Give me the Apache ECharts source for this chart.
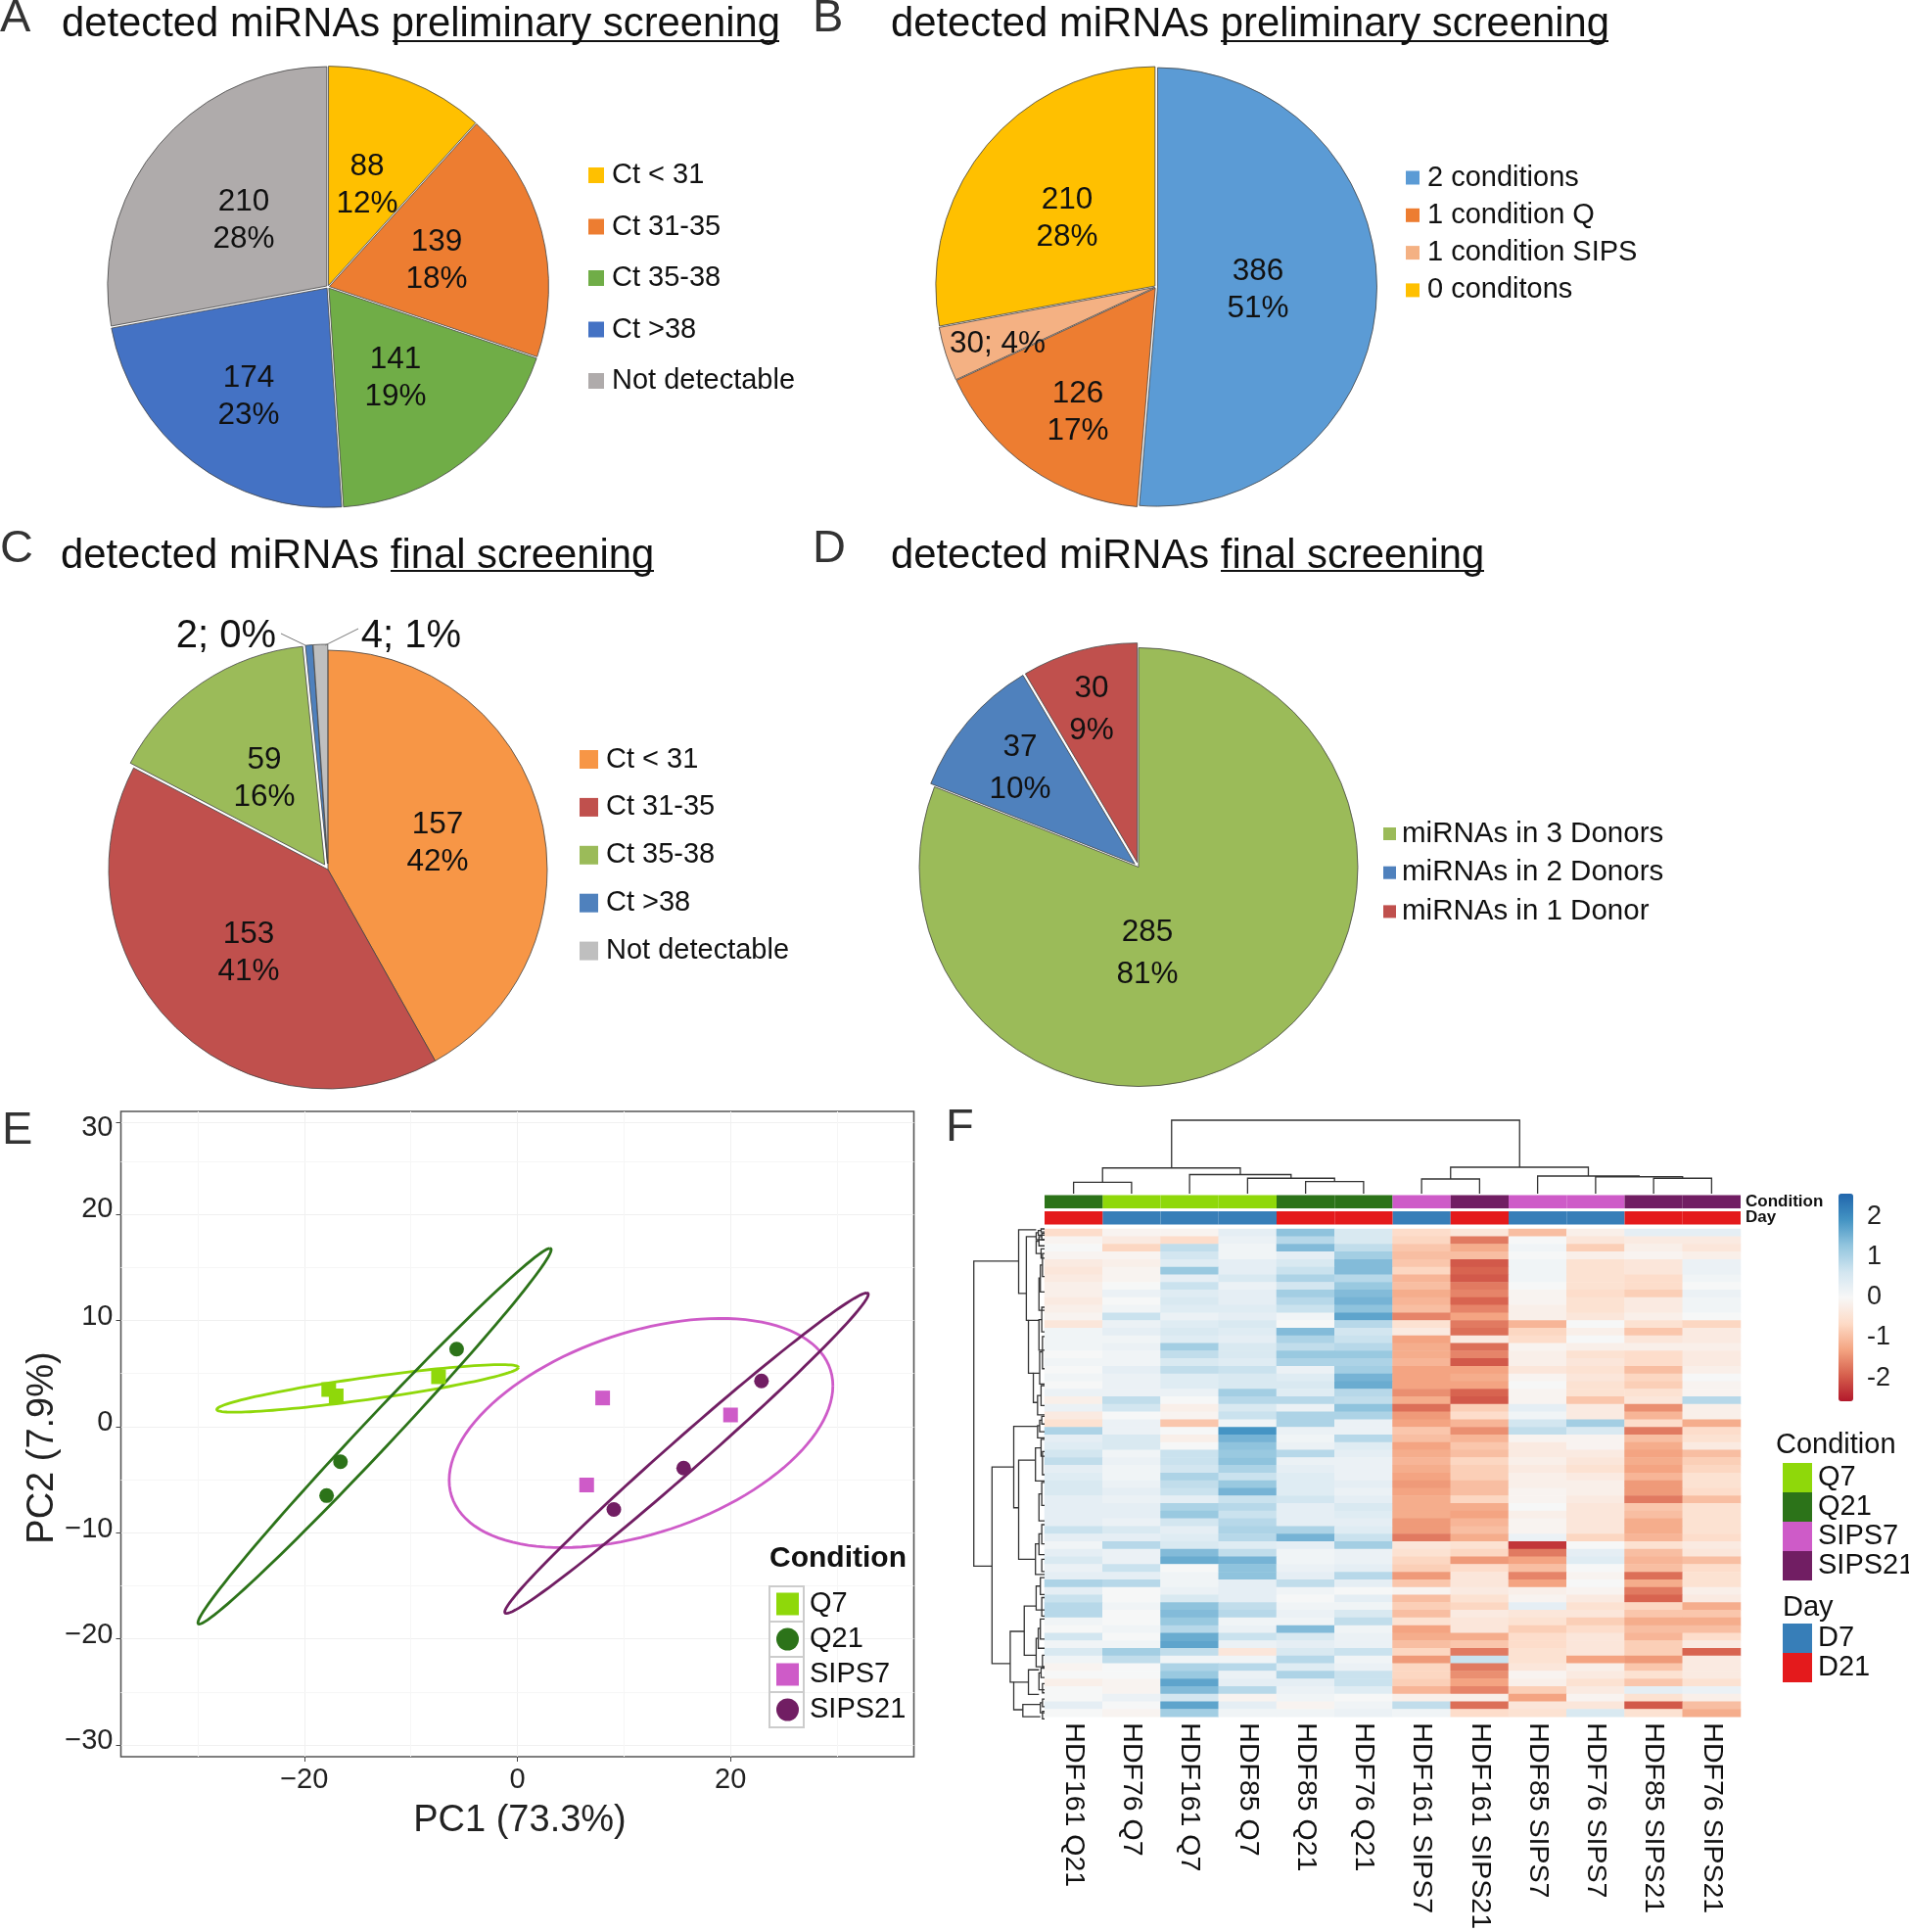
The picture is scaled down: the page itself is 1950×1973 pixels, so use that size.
<!DOCTYPE html>
<html>
<head>
<meta charset="utf-8">
<title>miRNA screening</title>
<script src="https://cdn.jsdelivr.net/npm/echarts@6/dist/echarts.min.js"></script>
<style>
    html, body { margin: 0; padding: 0; background: #fff; }
    #chart { width: 1950px; height: 1973px; }
</style>
</head>
<body>
<div id="chart"></div>
<script>
// ---- pies
var ctNames = ['Ct < 31', 'Ct 31-35', 'Ct 35-38', 'Ct >38', 'Not detectable'];
var pieAValues = [88, 139, 141, 174, 210];
var pieAPercents = [12, 18, 19, 23, 28];
var pieBNames = ['2 conditions', '1 condition Q', '1 condition SIPS', '0 conditons'];
var pieBValues = [386, 126, 30, 210];
var pieBPercents = [51, 17, 4, 28];
var pieCValues = [157, 153, 59, 2, 4];
var pieCPercents = [42, 41, 16, 0, 1];
var pieDNames = ['miRNAs in 3 Donors', 'miRNAs in 2 Donors', 'miRNAs in 1 Donor'];
var pieDValues = [285, 37, 30];
var pieDPercents = [81, 10, 9];

// ---- PCA
var q7Points = [[-17.7, 3.5], [-17.0, 2.9], [-7.4, 4.7]];
var q21Points = [[-5.7, 7.3], [-16.6, -3.3], [-17.9, -6.5]];
var sips7Points = [[8.0, 2.7], [20.0, 1.1], [6.5, -5.5]];
var sips21Points = [[22.9, 4.3], [15.6, -3.9], [9.05, -7.8]];
// centre x, centre y, then the two conjugate radii
var q7Ellipse = [-14.05, 3.6, 14.15, 1.98, 0, 1.05];
var q21Ellipse = [-13.4, -0.9, 16.45, 17.7, 2.0, 0];
var sips7Ellipse = [11.6, -0.6, 18, 4.45, 0, 9.84];
var sips21Ellipse = [15.87, -2.5, 16.9, 15.1, 2.3, 0];
var pcaXTicks = [-20, 0, 20];
var pcaYTicks = [-30, -20, -10, 0, 10, 20, 28.7];
// the printed y labels sit a little above their ticks
var pcaYLabels = [-29.65, -19.65, -9.65, 0.35, 10.35, 20.45, 28.1];
var pcaXMinor = [-30, -10, 10, 30];
var pcaYMinor = [-25, -15, -5, 5, 15, 25];

// ---- heatmap
var samples = ['HDF161 Q21', 'HDF76 Q7', 'HDF161 Q7', 'HDF85 Q7', 'HDF85 Q21', 'HDF76 Q21',
    'HDF161 SIPS7', 'HDF161 SIPS21', 'HDF85 SIPS7', 'HDF76 SIPS7', 'HDF85 SIPS21', 'HDF76 SIPS21'];
var sampleCondition = ['Q21', 'Q7', 'Q7', 'Q7', 'Q21', 'Q21', 'SIPS7', 'SIPS21', 'SIPS7', 'SIPS7', 'SIPS21', 'SIPS21'];
var sampleDay = ['D21', 'D7', 'D7', 'D7', 'D21', 'D21', 'D7', 'D21', 'D7', 'D7', 'D21', 'D21'];
var conditionNames = ['Q7', 'Q21', 'SIPS7', 'SIPS21'];
var dayNames = ['D7', 'D21'];
var colorbarTicks = [-2, -1, 0, 1, 2];
var heatRows = [
    [-0.6, -0.1, -0.1, 0.3, 1.3, 0.5, -0.6, -0.4, -1.0, -0.2, 0.3, 0.3],
    [-0.1, -0.3, -0.6, 0.2, 0.9, 0.5, -0.7, -1.7, 0.0, -0.4, -0.3, -0.3],
    [0, -0.7, 0.8, 0.1, 1.4, 0.8, -0.9, -1.2, 0.1, -0.8, -0.2, -0.4],
    [-0.1, -0.1, 0.6, 0.1, 0.3, 1.1, -1.0, -1.0, 0.0, -0.2, -0.1, -0.2],
    [-0.3, -0.2, 0.4, 0.3, 0.5, 1.4, -0.9, -2.0, 0.1, -0.5, -0.4, 0.2],
    [-0.4, -0.1, 1.2, 0.3, 0.7, 1.4, -0.7, -1.9, 0.1, -0.5, -0.4, 0.2],
    [-0.3, -0.1, 0.3, 0.5, 1.0, 0.9, -1.1, -2.0, 0.1, -0.5, -0.6, 0.1],
    [-0.2, 0, 0.7, 0.2, 0.6, 1.2, -1.0, -1.7, 0, -0.5, -0.6, 0],
    [-0.2, 0.2, 0.4, 0.3, 1.1, 1.4, -1.2, -1.6, -0.1, -0.6, -0.8, 0.2],
    [-0.3, 0, 0.5, 0.3, 0.9, 1.5, -1.1, -1.9, -0.1, -0.5, -0.3, 0.1],
    [-0.2, 0.1, 0.4, 0.4, 0.7, 1.3, -1.0, -1.6, -0.2, -0.5, -0.3, 0.1],
    [-0.1, 0.7, 0.2, 0.3, 0.1, 1.7, -1.6, -1.3, -0.2, -0.4, -0.2, 0],
    [-0.4, 0.2, 0.4, 0.5, 0.0, 0.9, -0.5, -1.7, -1.1, 0, -0.5, -0.7],
    [0.1, 0.3, 0.5, 0.4, 1.4, 0.6, -0.3, -1.8, -0.7, -0.2, -0.9, -0.3],
    [0.1, 0.1, 0.4, 0.3, 1.0, 0.7, -1.3, -0.3, -0.6, 0, -0.4, -0.3],
    [0.1, 0.2, 1.1, 0.5, 0.8, 0.9, -1.2, -1.8, -0.1, -0.2, -0.2, -0.2],
    [0, 0.1, 0.8, 0.5, 1.2, 1.2, -1.2, -1.6, -0.2, -0.5, -0.6, -0.3],
    [0.1, 0.1, 0.5, 0.4, 1.0, 1.0, -1.1, -2.0, -0.2, -0.4, -0.6, -0.3],
    [0, 0.3, 0.8, 0.7, 0.2, 1.1, -1.3, -1.3, -0.4, -0.5, -1.0, -0.2],
    [0.1, 0.2, 0.4, 0.5, 0.4, 1.5, -1.3, -1.2, -0.1, -0.4, -0.7, 0],
    [0, 0.2, 0.4, 0.5, 0.5, 1.6, -1.3, -1.3, 0, -0.5, -0.8, -0.1],
    [0.2, 0.2, 0.2, 1.1, 0.4, 0.9, -1.5, -1.9, -0.1, -0.5, -0.5, -0.1],
    [-0.2, 0.8, 0, 0.9, 0.9, 0.8, -1.2, -2.0, -0.1, -0.9, -0.4, 0.9],
    [0.2, 0.6, -0.2, 0.5, 0.2, 1.3, -1.8, -0.8, 0.3, -0.3, -1.5, -0.2],
    [-0.3, 0, -0.1, 0.7, 1.0, 1.0, -1.4, -0.6, 0.1, -0.3, -1.1, -0.2],
    [-0.5, 0.2, -0.9, 0.1, 1.0, 0.2, -1.3, -1.1, 0.6, 1.1, -0.6, -1.2],
    [1.0, 0.2, 0, 1.9, 0.2, 0.2, -0.9, -1.5, 0.8, 0.5, -1.7, -0.6],
    [0.3, 0.5, -0.2, 1.5, 0.1, 0.9, -1.0, -1.1, -0.1, -0.1, -1.0, -0.5],
    [0.4, 0.5, 0, 1.3, 0.2, 0.4, -1.3, -0.9, -0.3, -0.1, -1.2, -0.3],
    [0.6, 0.1, 0.7, 1.2, 0.9, 0.3, -1.2, -1.0, -0.3, -0.3, -1.3, -1.0],
    [0.8, 0.2, 0.7, 1.3, 0.2, 0.2, -1.1, -0.7, -0.2, -0.4, -1.2, -0.8],
    [0.3, 0.1, 0.6, 1.0, 0.3, 0.2, -1.2, -0.8, -0.3, -0.5, -1.3, -0.7],
    [0.4, 0.1, 1.0, 0.7, 0.4, 0.2, -1.3, -0.8, -0.2, -0.3, -1.1, -0.5],
    [0.5, 0.2, 0.8, 1.2, 0.4, 0.3, -1.4, -1.0, -0.2, -0.2, -1.4, -0.5],
    [0.5, 0.3, 0.7, 1.5, 0.4, 0.2, -1.3, -1.0, -0.1, -0.2, -1.4, -0.6],
    [0.3, 0.2, 0.3, 0.7, 0.6, 0.3, -1.2, -0.7, -0.1, -0.3, -1.7, -1.0],
    [0.3, 0.3, 1.0, 0.9, 0.3, 0.5, -1.2, -1.2, 0, -0.4, -0.9, -0.5],
    [0.3, 0.3, 1.2, 0.7, 0.3, 0.4, -1.2, -1.3, -0.2, -0.4, -1.0, -0.5],
    [0.3, 0.2, 0.6, 0.9, 0.3, 0.3, -1.4, -1.1, -0.1, -0.4, -1.2, -0.5],
    [0.7, 0.5, 0.3, 1.0, 1.0, 0.4, -1.4, -1.0, -0.1, -0.4, -1.2, -0.5],
    [0.3, 0.3, 0.4, 0.9, 1.5, 0.7, -1.7, -1.2, 0.2, -0.7, -1.1, -0.6],
    [0.1, 0.9, 0.5, 0.4, 0.3, 1.1, -0.4, -0.5, -2.3, 0, -0.5, -0.3],
    [0.3, 0.2, 1.4, 0.8, 0.1, 0.2, -0.5, -0.7, -1.7, 0.3, -1.0, -0.4],
    [0.5, 0.2, 1.6, 1.5, 0.1, 0.2, -0.7, -1.4, -1.3, 0.4, -1.1, -1.0],
    [0.2, 0.7, 0, 1.3, 0.2, 0.3, -0.8, -0.6, -1.0, 0, -1.0, -0.6],
    [0.3, 0.3, 0.1, 1.3, 0.3, 0.9, -1.4, -0.4, -1.6, -0.1, -1.8, -0.5],
    [1.0, 0.9, 0.1, 0.3, 0.8, 0.3, -0.9, -0.4, -1.3, 0, -1.2, -0.5],
    [0.3, 0, 0.2, 0.3, 0.1, 0, -0.1, -0.3, -0.2, -0.1, -1.7, -0.2],
    [0.7, 0, 0.5, 0.3, 0, 0.3, -1.0, -0.5, -0.1, -0.3, -1.9, -0.3],
    [0.9, 0.1, 1.3, 0.8, 0.1, 0.1, -0.8, -0.7, 0.3, -0.5, -0.7, -1.2],
    [0.9, 0, 1.4, 0.9, 0.2, 0.5, -1.0, -0.3, -0.4, -0.4, -0.9, -0.9],
    [0.1, 0, 1.2, 0.1, 0.1, 0.8, -0.5, -0.4, -0.5, -0.8, -1.2, -1.2],
    [0, 0.1, 0.9, 0.2, 1.4, 0.1, -1.3, -0.4, -0.8, -0.6, -1.0, -1.0],
    [0.6, 0, 1.6, 0.7, 0.5, 0.2, -1.2, -1.2, -0.6, -0.4, -1.1, -0.6],
    [0.1, 0.1, 1.7, 0.2, 0.3, 0.2, -1.0, -0.9, -0.6, -0.4, -0.8, -0.3],
    [0.5, 1.1, 0.8, -0.4, 0.5, 0.7, -0.7, -1.7, -0.5, -0.4, -0.8, -1.9],
    [0.1, 0.8, 0.1, 0.1, 0.9, 0.1, -1.4, 0.7, -0.5, -1.3, -1.4, -0.3],
    [-0.1, 0, 1.0, 0.9, 0.4, 0.2, -0.7, -1.7, -0.4, -0.2, -0.9, -0.3],
    [0, 0, 1.2, 0.2, 1.0, 0.7, -0.7, -1.5, -0.1, -0.3, -0.5, -0.3],
    [-0.2, -0.1, 1.7, 0.3, 0.3, 0.7, -0.8, -1.3, -0.2, -0.5, -0.9, -0.5],
    [0, -0.1, 1.4, 0.9, 0.2, 0.4, -1.1, -1.6, -0.8, -0.3, 0.3, 0.2],
    [0, 0.2, 0.6, -0.1, 0.1, 0, -0.2, -0.2, -1.3, -0.1, -0.5, -0.2],
    [0.3, 0, 1.7, 0.3, -0.1, 0.1, 0.8, -1.8, -0.4, -0.4, -2.0, -1.0],
    [0, -0.1, 1.1, 0.1, 0.1, 0.2, 0.1, -0.6, -0.5, 0.5, -0.5, -1.2]
];
// dendrograms: a position, a height, b position, b height, join height
var topMerges = [
    [0, 0, 1, 0, 15.6],
    [4, 0, 5, 0, 16.5],
    [3, 0, 4.5, 16.5, 21],
    [2, 0, 3.75, 21, 26],
    [0.5, 15.6, 2.875, 26, 35],
    [6, 0, 7, 0, 20],
    [10, 0, 11, 0, 21],
    [9, 0, 10.5, 21, 23],
    [8, 0, 9.75, 23, 24],
    [6.5, 20, 8.875, 24, 36],
    [1.69, 35, 7.69, 36, 100]
];
var leftMerges = [
    [4.2, 37, 43.9, 75, 101],
    [31, 44, 56.6, 49, 75],
    [0.1, 12, 8.4, 26, 37],
    [1, 12, 11.9, 23, 26],
    [11.9, 8, 18.8, 16, 23],
    [18.8, 7, 22.6, 10, 16],
    [25.7, 10, 36.3, 37, 44],
    [30.1, 13, 43, 13, 37],
    [52.4, 29, 59, 44, 49],
    [49.1, 12, 55.5, 12, 29],
    [59, 23, 62.6, 31, 44],
    [57.4, 8, 60.6, 8, 23],
    [61.9, 6, 63.5, 6, 31],
    [0, 0, 0.4, 0, 5], [0.2, 5, 0.8, 0, 9], [0.5, 9, 1.4, 0, 12],
    [0.6, 0, 1.4, 0, 4], [1, 4, 2.2, 0, 8], [1.6, 8, 3.2, 5, 12],
    [2.6, 0, 3.8, 0, 5], [3.2, 0, 6.2, 0, 3], [4.7, 3, 8.2, 0, 6], [6.4, 6, 10.6, 0, 8],
    [10.2, 0, 13.4, 0, 4], [11.8, 4, 15.8, 0, 8],
    [14, 0, 18.2, 0, 3], [16, 3, 20.2, 0, 7], [20.4, 0, 23, 0, 5], [21.7, 5, 24.2, 0, 10],
    [24.4, 0, 25.4, 0, 4], [24.9, 4, 26.4, 0, 7], [25.6, 7, 27.2, 0, 10],
    [27.4, 0, 29.6, 0, 5], [28.5, 5, 32.8, 0, 13],
    [29, 0, 32, 0, 3], [33, 0, 36, 0, 4], [34.5, 4, 38, 0, 8],
    [38.5, 0, 41, 0, 4], [39.7, 4, 42.4, 0, 8], [41, 8, 45, 0, 13],
    [43, 0, 44.6, 0, 4], [45.4, 0, 47.6, 0, 6], [46.5, 6, 49.6, 0, 12],
    [48, 0, 50.4, 0, 4], [50.8, 0, 53.4, 0, 6], [52, 6, 54.6, 0, 9], [53.3, 9, 57, 0, 12],
    [55.5, 0, 57, 0, 3], [57.2, 0, 58.4, 0, 5], [57.8, 5, 60, 0, 8],
    [59.2, 0, 60.4, 0, 3], [61.2, 0, 62.2, 0, 3], [61.7, 3, 63, 0, 6], [62.8, 0, 63.8, 0, 3]
];

// ---- colours
var pieAColors = ['#FFC000', '#ED7D31', '#70AD47', '#4472C4', '#AFABAB'];
var pieBColors = ['#5B9BD5', '#ED7D31', '#F4B183', '#FFC000'];
var pieCColors = ['#F79646', '#C0504D', '#9BBB59', '#4F81BD', '#BFBFBF'];
var pieDColors = ['#9BBB59', '#4F81BD', '#C0504D'];
var conditionColors = ['#8FD80A', '#2C7319', '#CE5BC8', '#711E63'];
var dayColors = ['#377EB8', '#E41A1C'];
var heatColors = ['#B2182B', '#D6604D', '#F4A582', '#FDDBC7', '#F7F7F7', '#D1E5F0', '#92C5DE', '#4393C3', '#2166AC'];

var FONT = '"Liberation Sans", Arial, sans-serif';
var myChart = echarts.init(document.getElementById('chart'), null, {width: 1950, height: 1973});

// the slices and their labels are two pies: selected slices ignore labelLayout,
// so the labels sit on a see-through copy with nothing selected
function pieSeries(cfg) {
    var slices = {
        type: 'pie',
        center: cfg.center,
        radius: cfg.radius,
        startAngle: 90,
        clockwise: true,
        silent: true,
        label: {show: false},
        labelLine: {show: false},
        selectedMode: 'multiple',
        selectedOffset: cfg.offset,
        select: {itemStyle: {borderColor: '#444', borderWidth: 0.8}},
        itemStyle: {borderColor: '#444', borderWidth: 0.8},
        data: cfg.values.map(function (v, i) {
            return {
                name: cfg.names[i],
                value: v,
                selected: cfg.exploded.indexOf(i) >= 0,
                itemStyle: {color: cfg.colors[i]}
            };
        })
    };
    var labels = {
        type: 'pie',
        center: cfg.center,
        radius: cfg.radius,
        startAngle: 90,
        clockwise: true,
        silent: true,
        z: 5,
        avoidLabelOverlap: false,
        selectedMode: false,
        itemStyle: {color: 'rgba(0,0,0,0)', borderWidth: 0},
        data: cfg.values.map(function (v, i) {
            var item = {name: cfg.names[i], value: v};
            if (cfg.big && cfg.big.indexOf(i) >= 0) {
                item.label = {fontSize: 40};
            }
            return item;
        }),
        label: {
            position: 'inside',
            color: '#111',
            fontSize: 31.5,
            lineHeight: cfg.lineHeight || 38,
            fontFamily: FONT,
            formatter: function (p) {
                var sep = cfg.inline && cfg.inline.indexOf(p.dataIndex) >= 0 ? '; ' : '\n';
                return p.value + sep + cfg.percents[p.dataIndex] + '%';
            }
        },
        labelLayout: function (p) {
            return {x: cfg.labelAt[p.dataIndex][0], y: cfg.labelAt[p.dataIndex][1], align: 'center', verticalAlign: 'middle'};
        }
    };
    return [slices, labels];
}

function keyLegend(names, colors, left, top, opts) {
    return {
        orient: 'vertical',
        left: left,
        top: top,
        padding: 0,
        selectedMode: false,
        itemWidth: opts.size,
        itemHeight: opts.size,
        itemGap: opts.gap,
        textStyle: {
            color: '#111',
            fontFamily: FONT,
            fontSize: opts.font,
            lineHeight: opts.line,
            padding: [0, 0, 0, opts.pad || 0]
        },
        data: names.map(function (n, i) {
            return {
                name: n,
                icon: opts.icons ? opts.icons[i] : 'rect',
                itemStyle: {color: colors[i], borderWidth: 0, opacity: 1}
            };
        })
    };
}

function labelText(text, x, y, size, extra) {
    return {
        type: 'text',
        x: x,
        y: y,
        silent: true,
        z: 10,
        style: Object.assign({
            text: text,
            fill: '#111',
            fontFamily: FONT,
            fontSize: size,
            verticalAlign: 'middle'
        }, extra || {})
    };
}

function rule(x1, x2, y) {
    return {type: 'line', silent: true, shape: {x1: x1, y1: y, x2: x2, y2: y}, style: {stroke: '#111', lineWidth: 2}};
}

function leader(x1, y1, x2, y2) {
    return {type: 'line', silent: true, z: 10, shape: {x1: x1, y1: y1, x2: x2, y2: y2}, style: {stroke: '#777', lineWidth: 1}};
}

function frame(x, y, w, h) {
    return {type: 'rect', silent: true, z: 2, shape: {x: x, y: y, width: w, height: h}, style: {fill: '#fff', stroke: '#ccc', lineWidth: 2}};
}

function stripSeries(name, color, row, members) {
    var data = [];
    members.forEach(function (m, i) {
        if (m === name) {
            data.push([i, row]);
        }
    });
    return {
        type: 'custom',
        name: name,
        silent: true,
        xAxisIndex: 1,
        yAxisIndex: 1,
        itemStyle: {color: color},
        data: data,
        renderItem: function (params, api) {
            var c = api.coord([api.value(0), api.value(1)]);
            var s = api.size([1, 1]);
            return {
                type: 'rect',
                shape: {x: c[0] - s[0] / 2, y: c[1] - s[1] / 2 + 1.5, width: s[0], height: s[1] - 3},
                style: {fill: color}
            };
        }
    };
}

function dendroSeries(merges, axis, horizontal) {
    return {
        type: 'custom',
        silent: true,
        xAxisIndex: axis,
        yAxisIndex: axis,
        data: merges,
        renderItem: function (params, api) {
            var a = api.value(0), ha = api.value(1), b = api.value(2), hb = api.value(3), h = api.value(4);
            var pts = horizontal
                ? [[ha, a], [h, a], [h, b], [hb, b]]
                : [[a, ha], [a, h], [b, h], [b, hb]];
            return {
                type: 'polyline',
                shape: {points: pts.map(function (p) { return api.coord(p); })},
                style: {fill: null, stroke: '#333', lineWidth: 1.3}
            };
        }
    };
}

function axisOff(extra) {
    return Object.assign({show: false, type: 'value'}, extra);
}

var ellipses = [q7Ellipse, q21Ellipse, sips7Ellipse, sips21Ellipse];

var heatData = [];
heatRows.forEach(function (row, r) {
    row.forEach(function (v, c) {
        heatData.push([c, r, v]);
    });
});

var scatterSets = [q7Points, q21Points, sips7Points, sips21Points];
var scatterSeries = conditionNames.map(function (n, i) {
    return {
        type: 'scatter',
        name: n,
        silent: true,
        xAxisIndex: 0,
        yAxisIndex: 0,
        z: 4,
        symbol: i % 2 === 0 ? 'rect' : 'circle',
        symbolSize: 15,
        itemStyle: {color: conditionColors[i], opacity: 1},
        data: scatterSets[i]
    };
});

var stripCondition = conditionNames.map(function (n, i) {
    return stripSeries(n, conditionColors[i], 1, sampleCondition);
});
var stripDay = dayNames.map(function (n, i) {
    return stripSeries(n, dayColors[i], 0, sampleDay);
});

function minusSign(v) {
    return String(v).replace('-', '\u2212');
}

var option = {
    animation: false,
    backgroundColor: '#fff',
    textStyle: {fontFamily: FONT},
    grid: [
        {left: 123.5, top: 1135, width: 810, height: 659, show: true, borderColor: '#555', borderWidth: 1.6},
        {left: 1067, top: 1219, width: 711, height: 33},
        {left: 1067, top: 1255, width: 711, height: 502},
        {left: 1067, top: 1144, width: 711, height: 75},
        {left: 994, top: 1255, width: 73, height: 502},
        {left: 1878, top: 1219, width: 15, height: 212}
    ],
    xAxis: [
        {
            type: 'value', gridIndex: 0, min: -37.2, max: 37.2,
            name: 'PC1 (73.3%)', nameLocation: 'middle', nameGap: 47,
            nameTextStyle: {fontSize: 38, color: '#222', fontFamily: FONT, padding: [0, 0, 0, 5]},
            axisLine: {show: false, onZero: false},
            axisTick: {show: true, length: 5, customValues: pcaXTicks, lineStyle: {color: '#444'}},
            axisLabel: {fontSize: 29, color: '#222', margin: 9, customValues: pcaXTicks, formatter: minusSign},
            splitLine: {show: true, lineStyle: {color: '#f0f0f0', width: 1}}
        },
        {type: 'category', gridIndex: 1, data: samples, show: false},
        {
            type: 'category', gridIndex: 2, data: samples,
            axisLine: {show: false}, axisTick: {show: false},
            axisLabel: {interval: 0, rotate: -90, fontSize: 28.5, color: '#111', margin: 6, fontFamily: FONT},
            splitLine: {show: false}
        },
        axisOff({gridIndex: 3, min: -0.5, max: 11.5}),
        axisOff({gridIndex: 4, min: 0, max: 102, inverse: true}),
        axisOff({gridIndex: 5, min: 0, max: 1})
    ],
    yAxis: [
        {
            type: 'value', gridIndex: 0, min: -31.1, max: 29.7,
            name: 'PC2 (7.9%)', nameLocation: 'middle', nameGap: 50, nameRotate: 90,
            nameTextStyle: {fontSize: 38, color: '#222', fontFamily: FONT, padding: [0, 28, 0, 0]},
            axisLine: {show: false, onZero: false},
            axisTick: {show: true, length: 5, customValues: pcaYTicks, lineStyle: {color: '#444'}},
            axisLabel: {
                fontSize: 29, color: '#222', margin: 8, customValues: pcaYLabels, padding: [0, 0, 10, 0],
                formatter: function (v) { return minusSign(v > 27 ? 30 : Math.round(v / 10) * 10); }
            },
            splitLine: {show: true, lineStyle: {color: '#f0f0f0', width: 1}}
        },
        {
            type: 'category', gridIndex: 1, data: ['Day', 'Condition'], position: 'right',
            axisLine: {show: false}, axisTick: {show: false},
            axisLabel: {fontSize: 17, fontWeight: 'bold', color: '#111', margin: 5, interval: 0},
            splitLine: {show: false}
        },
        {
            type: 'category', gridIndex: 2, inverse: true, show: false,
            data: heatRows.map(function (r, i) { return i; })
        },
        axisOff({gridIndex: 3, min: 0, max: 100}),
        axisOff({gridIndex: 4, min: 0, max: heatRows.length, inverse: true}),
        {
            type: 'value', gridIndex: 5, min: -2.58, max: 2.56, position: 'right',
            axisLine: {show: false}, axisTick: {show: false}, splitLine: {show: false},
            axisLabel: {fontSize: 27, color: '#222', margin: 14, customValues: colorbarTicks, padding: [2, 0, 0, 0]}
        }
    ],
    visualMap: [{
        type: 'continuous',
        seriesIndex: 0,
        min: -2.58,
        max: 2.56,
        left: 1878,
        top: 1219,
        itemWidth: 15,
        itemHeight: 212,
        padding: 0,
        calculable: false,
        hoverLink: false,
        showLabel: false,
        inRange: {color: heatColors},
        textStyle: {fontSize: 1}
    }],
    legend: [
        keyLegend(ctNames, pieAColors, 601, 164, {size: 16, gap: 22.5, font: 29, line: 30, pad: 3}),
        keyLegend(pieBNames, pieBColors, 1436, 166.5, {size: 14, gap: 8.3, font: 29, line: 30, pad: 3}),
        keyLegend(ctNames, pieCColors, 592, 760.5, {size: 19, gap: 18.9, font: 29, line: 30, pad: 3}),
        keyLegend(pieDNames, pieDColors, 1413, 836.5, {size: 13, gap: 9.7, font: 29.5, line: 30, pad: 1}),
        keyLegend(conditionNames, conditionColors, 793, 1620, {size: 23, gap: 0, font: 29, line: 36, pad: 6, icons: ['rect', 'circle', 'rect', 'circle']}),
        keyLegend(conditionNames, conditionColors, 1821, 1494, {size: 30, gap: 0, font: 29, line: 29.5, pad: 1}),
        keyLegend(dayNames, dayColors, 1821, 1658, {size: 30, gap: 0, font: 29, line: 29.5, pad: 1})
    ],
    graphic: [
        labelText('A', 0, 19, 47, {fill: '#333'}),
        labelText('B', 830, 19, 47, {fill: '#333'}),
        labelText('C', 0, 561, 47, {fill: '#333'}),
        labelText('D', 830, 561, 47, {fill: '#333'}),
        labelText('E', 2, 1155, 47, {fill: '#333'}),
        labelText('F', 966, 1152, 47, {fill: '#333'}),
        labelText('detected miRNAs preliminary screening', 63, 25.5, 41.8),
        labelText('detected miRNAs preliminary screening', 910, 25.5, 41.8),
        labelText('detected miRNAs final screening', 62, 568.5, 41.8),
        labelText('detected miRNAs final screening', 910, 568.5, 41.8),
        rule(401, 796, 42),
        rule(1247, 1643, 42),
        rule(399, 668, 583),
        rule(1247, 1516, 583),
        leader(287, 647, 312, 659),
        leader(366, 642, 332, 659),
        frame(786, 1620, 35, 36),
        frame(786, 1656, 35, 36),
        frame(786, 1692, 35, 36),
        frame(786, 1728, 35, 36),
        labelText('Condition', 786, 1592, 30, {fontWeight: 'bold'}),
        labelText('Condition', 1814, 1476, 29),
        labelText('Day', 1821, 1642, 29)
    ],
    series: [
        {
            type: 'heatmap',
            silent: true,
            xAxisIndex: 2,
            yAxisIndex: 2,
            progressive: 0,
            data: heatData
        },
        {
            // carries the faint minor grid below the ellipses and the legend
            type: 'line',
            silent: true,
            xAxisIndex: 0,
            yAxisIndex: 0,
            z: 1,
            data: [],
            markLine: {
                silent: true,
                symbol: 'none',
                z: 1,
                label: {show: false},
                lineStyle: {color: '#f6f6f6', width: 1, type: 'solid'},
                data: pcaXMinor.map(function (v) { return {xAxis: v}; })
                    .concat(pcaYMinor.map(function (v) { return {yAxis: v}; }))
            }
        },
        {
            type: 'custom',
            name: 'ellipses',
            silent: true,
            xAxisIndex: 0,
            yAxisIndex: 0,
            z: 3,
            data: ellipses,
            renderItem: function (params, api) {
                var pts = [];
                for (var k = 0; k <= 120; k++) {
                    var t = k / 120 * Math.PI * 2;
                    pts.push(api.coord([
                        api.value(0) + api.value(2) * Math.cos(t) + api.value(4) * Math.sin(t),
                        api.value(1) + api.value(3) * Math.cos(t) + api.value(5) * Math.sin(t)
                    ]));
                }
                return {
                    type: 'polyline',
                    shape: {points: pts},
                    style: {fill: null, stroke: conditionColors[params.dataIndex], lineWidth: 2.8}
                };
            }
        },
        dendroSeries(topMerges, 3, false),
        dendroSeries(leftMerges, 4, true)
    ].concat(
        pieSeries({names: ctNames, values: pieAValues, percents: pieAPercents, colors: pieAColors,
            center: [335, 293], radius: 224, exploded: [0, 1, 2, 3, 4], offset: 1.5,
            labelAt: [[375, 189.5], [446, 266.5], [404, 386.5], [254, 405.5], [249, 225.5]]}),
        pieSeries({names: pieBNames, values: pieBValues, percents: pieBPercents, colors: pieBColors,
            center: [1181, 293], radius: 224, exploded: [0, 1, 2, 3], offset: 1.5, inline: [2],
            labelAt: [[1285, 296], [1101, 421], [1019, 351], [1090, 223]]}),
        pieSeries({names: ctNames, values: pieCValues, percents: pieCPercents, colors: pieCColors,
            center: [335, 888], radius: 224, exploded: [2, 3, 4], offset: 6,
            inline: [3, 4], big: [3, 4],
            labelAt: [[447, 861.5], [254, 973], [270, 795.5], [231, 650], [420, 650]]}),
        pieSeries({names: pieDNames, values: pieDValues, percents: pieDPercents, colors: pieDColors,
            center: [1163, 885.5], radius: 224, exploded: [1, 2], offset: 5, lineHeight: 43,
            labelAt: [[1172, 973.5], [1042, 784.5], [1115, 724.5]]}),
        scatterSeries, stripCondition, stripDay
    )
};

myChart.setOption(option);
</script>
</body>
</html>
